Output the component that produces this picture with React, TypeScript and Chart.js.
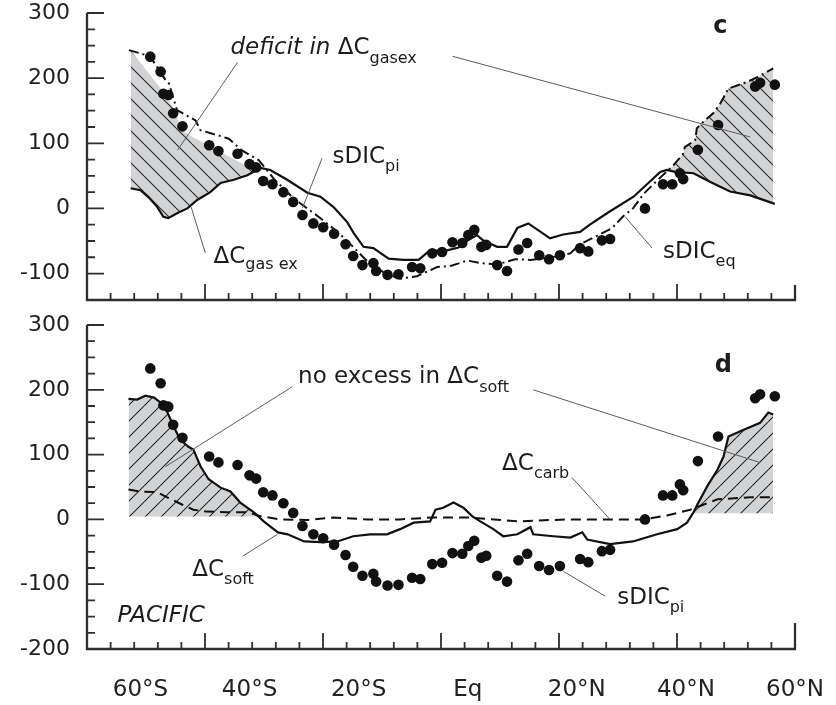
import React, { useEffect, useRef } from 'react';
import { Chart, registerables } from 'chart.js';

Chart.register(...registerables);

// ---------- data (latitude in degrees, values in µmol/kg) ----------
// observed sDIC_pi (dots, shared by both panels)
const obsLat = [-58.2, -56.3, -55.8, -54.9, -54.0, -52.3, -47.4, -45.7, -42.2, -40.0, -38.8, -37.5, -35.8, -33.8, -32.0, -30.3, -28.3, -26.5, -24.5, -22.4, -21.0, -19.3, -17.3, -16.8, -14.7, -12.7, -10.2, -8.7, -6.5, -4.7, -2.8, -1.0, 0.1, 1.2, 2.5, 3.4, 5.4, 7.2, 9.3, 10.9, 13.1, 14.9, 16.9, 20.6, 22.1, 24.6, 26.1, 32.5, 35.8, 37.5, 38.9, 39.5, 42.2, 45.9, 52.7, 53.6, 56.3];
const obsDIC = [233, 210, 176, 174, 146, 126, 97, 88, 84, 68, 63, 42, 37, 25, 10, -10, -23, -29, -39, -55, -73, -87, -84, -96, -102, -101, -90, -92, -69, -67, -52, -53, -41, -33, -59, -56, -87, -96, -63, -53, -72, -78, -72, -61, -66, -49, -47, 0, 37, 37, 54, 45, 90, 128, 187, 193, 190];

// sDIC_eq (dash-dot, panel c)
const eqLat = [-62.1, -60.0, -58.2, -55.4, -54.8, -53.3, -49.9, -49.0, -45.7, -43.8, -41.4, -38.3, -35.5, -32.0, -27.0, -24.0, -21.0, -18.0, -15.0, -12.4, -9.3, -5.6, -3.0, -0.1, 2.3, 5.4, 8.7, 11.5, 13.3, 16.0, 18.8, 20.6, 23.7, 26.5, 28.5, 30.3, 32.2, 35.0, 37.7, 39.5, 39.8, 41.7, 42.0, 43.2, 45.0, 46.3, 47.8, 51.2, 53.2, 56.0];
const eqDIC = [243, 238, 233, 197, 192, 151, 135, 120, 112, 107, 89, 74, 45, 16, -15, -35, -59, -85, -100, -108, -104, -90, -88, -80, -84, -86, -78, -79, -77, -74, -69, -55, -42, -30, -12, 0, 22, 45, 66, 84, 94, 105, 123, 133, 146, 161, 184, 194, 202, 215];

// ΔC_gas ex (solid, panel c)
const gasLat = [-61.8, -60.0, -58.5, -56.9, -55.8, -54.9, -53.2, -51.4, -49.6, -47.2, -45.3, -42.9, -40.4, -38.0, -36.2, -33.1, -29.4, -27.0, -24.6, -22.1, -20.9, -19.1, -17.3, -14.5, -11.8, -9.0, -6.9, -4.5, -1.7, 0.0, 1.7, 2.8, 5.4, 7.2, 9.1, 11.1, 15.1, 17.5, 20.6, 22.4, 25.6, 30.4, 35.3, 36.5, 38.0, 41.4, 44.4, 48.1, 51.8, 56.3];
const gasVal = [31, 28, 17, 2, -13, -15, -7, 0, 13, 25, 39, 44, 51, 62, 59, 44, 24, 18, 2, -21, -38, -59, -61, -77, -79, -79, -64, -66, -60, -49, -41, -49, -59, -59, -30, -23, -46, -40, -36, -25, -7, 18, 56, 59, 56, 54, 41, 26, 20, 7];

// upper edge of the southern "deficit" area (panel c)
const deficitLat = [-61.8, -56.0, -53.9, -52.4, -50.5, -41.4, -39.9, -38.0];
const deficitTop = [243, 181, 153, 120, 110, 69, 61, 60];

// ΔC_soft (solid, panel d)
const softLat = [-62.2, -60.6, -59.1, -57.5, -56.3, -55.1, -53.9, -52.7, -51.2, -50.3, -49.0, -47.5, -45.3, -43.5, -41.7, -39.2, -37.4, -34.8, -33.0, -30.0, -27.0, -23.9, -21.0, -17.9, -14.8, -12.4, -9.9, -6.9, -5.9, -4.5, -2.6, -0.8, 0.8, 2.3, 4.7, 6.5, 9.1, 11.5, 12.0, 15.7, 18.8, 21.0, 21.9, 26.1, 30.3, 34.7, 38.4, 40.2, 41.4, 42.1, 43.9, 45.8, 46.9, 47.8, 50.5, 53.6, 55.1, 56.0];
const softVal = [186, 185, 191, 188, 180, 166, 143, 123, 112, 108, 82, 62, 49, 43, 26, 11, -3, -20, -23, -34, -35, -34, -26, -23, -23, -15, -5, -3, 15, 18, 26, 18, 5, -3, -15, -26, -23, -12, -23, -26, -28, -20, -31, -38, -34, -23, -15, -5, 11, 23, 51, 77, 97, 128, 138, 149, 165, 162];

// ΔC_carb (dashed, panel d)
const carbLat = [-62.2, -60.0, -56.9, -55.1, -52.4, -50.3, -47.8, -44.1, -40.4, -38.0, -34.4, -29.4, -24.6, -18.4, -12.4, -6.3, -0.1, 9.1, 18.2, 26.1, 32.2, 36.5, 40.8, 45.8, 51.8, 56.3];
const carbVal = [46, 43, 42, 34, 23, 15, 12, 11, 11, 5, 0, -1, 3, 0, 0, 3, 3, -3, 0, 0, 0, 6, 15, 31, 34, 34];

// baselines of the "no excess" areas (panel d)
const excessLeftBase = 4;
const excessRightBase = 9;

// axes
const xLabelValues = [-60, -40, -20, 0, 20, 40, 60];
const xLabelText = ['60°S', '40°S', '20°S', 'Eq', '20°N', '40°N', '60°N'];
const yLabelsTop = [300, 200, 100, 0, -100];
const yLabelsBottom = [300, 200, 100, 0, -100, -200];

// ---------- layout / style ----------
const X_MIN = -69.8;
const X_MAX = 60;
const X_STEP = (X_MAX - X_MIN) / 30;
const FAMILY = '"DejaVu Sans"';
const F_TEXT = `23px ${FAMILY}`;
const F_ITAL = `italic 23px ${FAMILY}`;
const F_SUB = `16px ${FAMILY}`;
const F_BOLD = `bold 24px ${FAMILY}`;
const INK = '#1c1c1c';

const pts = (xs: number[], ys: number[]) => xs.map((x, i) => ({ x, y: ys[i] }));
const subset = (xs: number[], ys: number[], keep: (x: number) => boolean) =>
  pts(xs.filter(keep), ys.filter((_, i) => keep(xs[i])));

function makeHatch(forward: boolean): CanvasPattern | string {
  const s = 16;
  const c = document.createElement('canvas');
  c.width = s;
  c.height = s;
  const g = c.getContext('2d');
  if (!g) return '#d2d3d5';
  g.fillStyle = '#d2d3d5';
  g.fillRect(0, 0, s, s);
  g.strokeStyle = '#2a2a2a';
  g.lineWidth = 1.1;
  g.beginPath();
  for (const o of [-s, 0, s]) {
    if (forward) {
      g.moveTo(o, s);
      g.lineTo(o + s, 0);
    } else {
      g.moveTo(o, 0);
      g.lineTo(o + s, s);
    }
  }
  g.stroke();
  return g.createPattern(c, 'repeat') || '#d2d3d5';
}

type Run = [string, string, number?];
type Note = { at: [number, number]; runs: Run[] };

function framePlugin(yHigh: number, yLow: number, endTick: number) {
  return {
    id: 'frame',
    afterDatasetsDraw(chart: any) {
      const { ctx, chartArea: a } = chart;
      const xs = chart.scales.x;
      const ys = chart.scales.y;
      ctx.save();
      ctx.strokeStyle = '#2e2e2e';
      ctx.lineWidth = 2.3;
      ctx.beginPath();
      ctx.moveTo(a.left, a.top);
      ctx.lineTo(a.left, a.bottom);
      ctx.lineTo(a.right, a.bottom);
      ctx.lineTo(a.right, a.bottom - endTick);
      ctx.stroke();
      ctx.lineWidth = 1.8;
      ctx.beginPath();
      for (let v = yHigh; v >= yLow; v -= 25) {
        const py = ys.getPixelForValue(v);
        const len = v % 100 === 0 ? 17 : 8;
        ctx.moveTo(a.left, py);
        ctx.lineTo(a.left + len, py);
      }
      for (let k = 1; k < 30; k++) {
        const px = xs.getPixelForValue(X_MIN + k * X_STEP);
        const len = k % 5 === 0 ? 16 : 7;
        ctx.moveTo(px, a.bottom);
        ctx.lineTo(px, a.bottom - len);
      }
      ctx.stroke();
      ctx.restore();
    },
  };
}

function notesPlugin(notes: Note[], leaders: number[][]) {
  return {
    id: 'notes',
    afterDatasetsDraw(chart: any) {
      const { ctx } = chart;
      const xs = chart.scales.x;
      const ys = chart.scales.y;
      ctx.save();
      ctx.strokeStyle = '#5c5c5c';
      ctx.lineWidth = 1;
      for (const l of leaders) {
        ctx.beginPath();
        ctx.moveTo(xs.getPixelForValue(l[0]), ys.getPixelForValue(l[1]));
        ctx.lineTo(xs.getPixelForValue(l[2]), ys.getPixelForValue(l[3]));
        ctx.stroke();
      }
      ctx.fillStyle = INK;
      ctx.textAlign = 'left';
      ctx.textBaseline = 'alphabetic';
      for (const n of notes) {
        let px = xs.getPixelForValue(n.at[0]);
        const py = ys.getPixelForValue(n.at[1]);
        for (const r of n.runs) {
          ctx.font = r[1];
          ctx.fillText(r[0], px, py + (r[2] || 0));
          px += ctx.measureText(r[0]).width;
        }
      }
      ctx.restore();
    },
  };
}

const noScalePadding = (s: any) => {
  s.paddingTop = 0;
  s.paddingBottom = 0;
  s.paddingLeft = 0;
  s.paddingRight = 0;
};

function makeOptions(yMin: number, yMax: number, yLabels: number[], showX: boolean, padTop: number, xHeight: number) {
  return {
    responsive: false,
    animation: false,
    events: [],
    layout: { padding: { top: padTop, right: 41, left: 0, bottom: 0 } },
    plugins: { legend: { display: false }, tooltip: { enabled: false } },
    scales: {
      x: {
        type: 'linear',
        min: X_MIN,
        max: X_MAX,
        grid: { display: false, drawTicks: false },
        border: { display: false },
        afterBuildTicks: (s: any) => {
          s.ticks = xLabelValues.map((v) => ({ value: v }));
        },
        afterFit: (s: any) => {
          s.height = xHeight;
          noScalePadding(s);
        },
        ticks: {
          display: showX,
          autoSkip: false,
          maxRotation: 0,
          padding: 27,
          color: '#222',
          font: { family: 'DejaVu Sans', size: 23 },
          callback: (_v: any, i: number) => xLabelText[i],
        },
      },
      y: {
        type: 'linear',
        min: yMin,
        max: yMax,
        grid: { display: false, drawTicks: false },
        border: { display: false },
        afterBuildTicks: (s: any) => {
          s.ticks = yLabels.map((v) => ({ value: v }));
        },
        afterFit: (s: any) => {
          s.width = 87;
          noScalePadding(s);
        },
        ticks: {
          padding: 17,
          color: '#222',
          font: { family: 'DejaVu Sans', size: 22 },
          callback: (v: any) => String(v),
        },
      },
    },
  };
}

const clear = 'rgba(0,0,0,0)';

const topNotes: Note[] = [
  { at: [45.0, 268.9], runs: [['c', F_BOLD]] },
  { at: [-43.5, 237.7], runs: [['deficit in ', F_ITAL], ['ΔC', F_TEXT], ['gasex', F_SUB, 9]] },
  { at: [-24.8, 69.0], runs: [['sDIC', F_TEXT], ['pi', F_SUB, 8]] },
  { at: [-46.6, -83.9], runs: [['ΔC', F_TEXT], ['gas ex', F_SUB, 6]] },
  { at: [35.8, -76.2], runs: [['sDIC', F_TEXT], ['eq', F_SUB, 8]] },
];
const topLeaders = [
  [-42.2, 224.2, -53.2, 89.4],
  [-2.8, 233.6, 51.8, 109.7],
  [-26.7, 77.1, -30.3, 0.5],
  [-48.1, -68.6, -50.7, 2.0],
  [33.8, -60.9, 28.9, -13.3],
];
const bottomNotes: Note[] = [
  { at: [45.3, 227.7], runs: [['d', F_BOLD]] },
  { at: [-31.1, 210.3], runs: [['no excess in ', F_TEXT], ['ΔC', F_TEXT], ['soft', F_SUB, 9]] },
  { at: [6.3, 76.9], runs: [['ΔC', F_TEXT], ['carb', F_SUB, 8]] },
  { at: [-50.5, -87.7], runs: [['ΔC', F_TEXT], ['soft', F_SUB, 8]] },
  { at: [27.4, -130.8], runs: [['sDIC', F_TEXT], ['pi', F_SUB, 8]] },
  { at: [-64.2, -158.5], runs: [['PACIFIC', F_ITAL]] },
];
const bottomLeaders = [
  [-32.2, 204.6, -55.4, 81.5],
  [12.0, 200, 53.6, 87.7],
  [19.1, 64.6, 26.1, 0],
  [-41.3, -56.9, -34.9, -23.1],
  [25.2, -118.5, 17.5, -80],
];

const dotStyle = { showLine: false, pointRadius: 5.3, pointBackgroundColor: '#111', pointBorderWidth: 0, borderColor: clear, order: 0 };
const lineStyle = { borderColor: '#111', borderWidth: 2.2, pointRadius: 0, fill: false };
const areaStyle = { borderColor: clear, borderWidth: 1, pointRadius: 0, order: 6 };

export default function App() {
  const topRef = useRef<HTMLCanvasElement>(null);
  const botRef = useRef<HTMLCanvasElement>(null);

  useEffect(() => {
    if (!topRef.current || !botRef.current) return;
    const hatchBack = makeHatch(false);
    const hatchFwd = makeHatch(true);

    const top = new Chart(topRef.current, {
      type: 'line',
      data: {
        datasets: [
          { ...dotStyle, data: pts(obsLat, obsDIC) },
          { ...lineStyle, data: pts(eqLat, eqDIC), borderWidth: 2, borderDash: [10, 4, 2, 4], order: 1 },
          { ...lineStyle, data: pts(gasLat, gasVal), order: 2 },
          { ...areaStyle, data: pts(deficitLat, deficitTop), fill: { target: 2, above: hatchBack, below: clear } },
          { ...areaStyle, data: subset(eqLat, eqDIC, (x) => x >= 35), fill: { target: 2, above: hatchBack, below: clear } },
        ],
      },
      options: makeOptions(-140.6, 300, yLabelsTop, false, 13, 10) as any,
      plugins: [framePlugin(300, -100, 15), notesPlugin(topNotes, topLeaders)],
    } as any);

    const bottom = new Chart(botRef.current, {
      type: 'line',
      data: {
        datasets: [
          { ...dotStyle, data: pts(obsLat, obsDIC) },
          { ...lineStyle, data: pts(softLat, softVal), order: 1 },
          { ...lineStyle, data: pts(carbLat, carbVal), borderWidth: 2, borderDash: [10, 6], order: 2 },
          { ...areaStyle, data: subset(softLat, softVal, (x) => x <= -37), fill: { target: { value: excessLeftBase }, above: hatchFwd, below: clear } },
          { ...areaStyle, data: subset(softLat, softVal, (x) => x >= 40), fill: { target: { value: excessRightBase }, above: hatchFwd, below: clear } },
        ],
      },
      options: makeOptions(-200, 300, yLabelsBottom, true, 15, 56) as any,
      plugins: [framePlugin(300, -175, 26), notesPlugin(bottomNotes, bottomLeaders)],
    } as any);

    return () => {
      top.destroy();
      bottom.destroy();
    };
  }, []);

  return (
    <div style={{ position: 'absolute', left: 0, top: 0, width: 836, height: 705, background: '#fff' }}>
      <canvas ref={topRef} width={836} height={310} style={{ position: 'absolute', left: 0, top: 0 }} />
      <canvas ref={botRef} width={836} height={395} style={{ position: 'absolute', left: 0, top: 310 }} />
    </div>
  );
}
